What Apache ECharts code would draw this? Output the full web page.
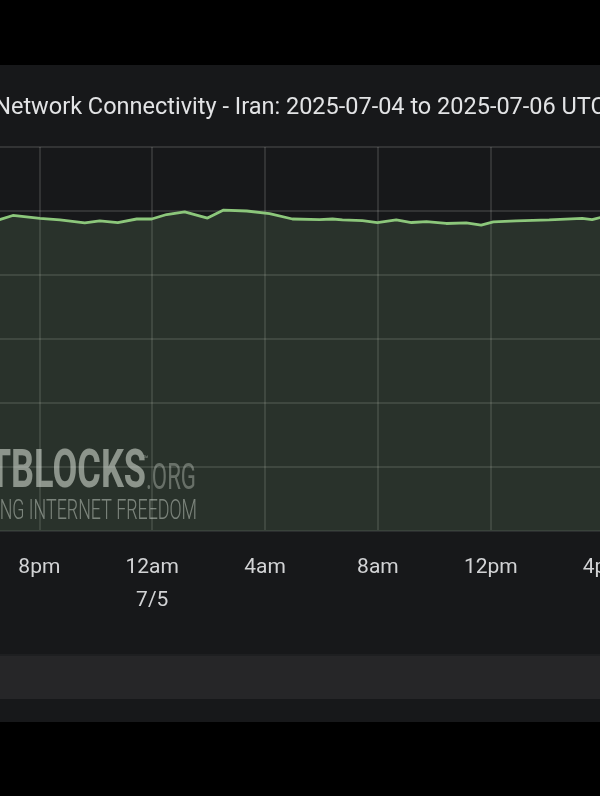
<!DOCTYPE html>
<html>
<head>
<meta charset="utf-8">
<style>
html,body{margin:0;padding:0;background:#000;overflow:hidden;}
#chart{width:600px;height:796px;}
</style>
<script src="https://cdn.jsdelivr.net/npm/echarts@6/dist/echarts.min.js"></script>
</head>
<body>
<div id="chart"></div>
<script>
// Hours since 2025-07-04 00:00 UTC
var hours = [18.55, 19.06, 20.02, 20.73, 21.61, 22.14, 22.78, 23.45, 23.98, 24.51, 25.15, 25.96, 26.53, 27.35, 28.16, 28.97, 29.93, 30.39, 30.74, 31.45, 31.98, 32.65, 33.19, 33.72, 34.42, 35.13, 35.66, 36.09, 36.90, 38.07, 39.24, 39.59, 39.9];
var connectivity = [97.2, 98.6, 97.7, 97.2, 96.3, 96.9, 96.4, 97.5, 97.5, 98.9, 99.7, 97.8, 100.3, 100.0, 99.2, 97.5, 97.3, 97.5, 97.2, 97.0, 96.4, 97.2, 96.4, 96.7, 96.1, 96.3, 95.6, 96.6, 96.9, 97.2, 97.7, 97.3, 98.0];
var tickHours = [16, 20, 24, 28, 32, 36, 40, 44];
var tickLabels = ['4pm', '8pm', '12am\n7/5', '4am', '8am', '12pm', '4pm', '8pm'];
var titleText = 'Network Connectivity - Iran: 2025-07-04 to 2025-07-06 UTC';

var seriesData = hours.map(function (h, i) { return [h, connectivity[i]]; });

var chart = echarts.init(document.getElementById('chart'), null, {renderer: 'canvas'});
chart.setOption({
  animation: false,
  backgroundColor: '#17181a',
  grid: {left: -73.5, width: 790, top: 147, bottom: 265, containLabel: false, outerBoundsMode: 'none'},
  xAxis: {
    type: 'value', min: 16, max: 44, interval: 4,
    axisLine: {show: true, lineStyle: {color: '#2a2c2e', width: 2}},
    axisTick: {show: false},
    splitLine: {show: true, lineStyle: {color: 'rgba(255,255,255,0.16)', width: 1.5}},
    axisLabel: {
      margin: 20, fontFamily: 'Roboto', fontSize: 21, color: '#d2d3d5', lineHeight: 33,
      formatter: function (v) { var i = tickHours.indexOf(v); return i >= 0 ? tickLabels[i] : ''; }
    }
  },
  yAxis: {
    type: 'value', min: 0, max: 120, interval: 20,
    axisLine: {show: false}, axisTick: {show: false}, axisLabel: {show: false},
    splitLine: {show: true, lineStyle: {color: 'rgba(255,255,255,0.16)', width: 1.5}}
  },
  series: [{
    type: 'line', data: seriesData, showSymbol: false, smooth: false,
    lineStyle: {color: '#8cc77b', width: 2.8},
    areaStyle: {color: 'rgba(120,165,118,0.27)'}
  }],
  graphic: [
    {type: 'rect', shape: {x: 0, y: 0, width: 600, height: 65}, style: {fill: '#000'}},
    {type: 'rect', shape: {x: 0, y: 722, width: 600, height: 74}, style: {fill: '#000'}},
    {type: 'rect', shape: {x: 0, y: 654, width: 600, height: 45}, style: {fill: '#262628'}},
    {type: 'rect', shape: {x: 0, y: 654, width: 600, height: 2}, style: {fill: '#1e1f21'}},
    {type: 'text', x: 300, y: 108, style: {text: titleText, fontFamily: 'Roboto', fontSize: 23.5, fill: '#e2e3e5', textAlign: 'center', textVerticalAlign: 'middle'}},
    {type: 'text', x: 146, y: 474, scaleX: 0.68, style: {text: 'NETBLOCKS', fontFamily: 'Roboto', fontWeight: 'bold', fontSize: 53, fill: 'rgba(225,225,225,0.6)', textAlign: 'right', textVerticalAlign: 'middle'}},
    {type: 'text', x: 146, y: 480, scaleX: 0.6, style: {text: '.ORG', fontFamily: 'Roboto', fontSize: 37, fill: 'rgba(225,225,225,0.38)', textAlign: 'left', textVerticalAlign: 'middle'}},
    {type: 'text', x: 143, y: 460, style: {text: '™', fontFamily: 'Roboto', fontSize: 9, fill: 'rgba(225,225,225,0.5)', textAlign: 'left', textVerticalAlign: 'middle'}},
    {type: 'text', x: 197, y: 512, scaleX: 0.637, style: {text: 'DEFENDING INTERNET FREEDOM', fontFamily: 'Roboto', fontWeight: 300, fontSize: 28, fill: 'rgba(225,225,225,0.5)', textAlign: 'right', textVerticalAlign: 'middle'}}
  ]
});
</script>
</body>
</html>
